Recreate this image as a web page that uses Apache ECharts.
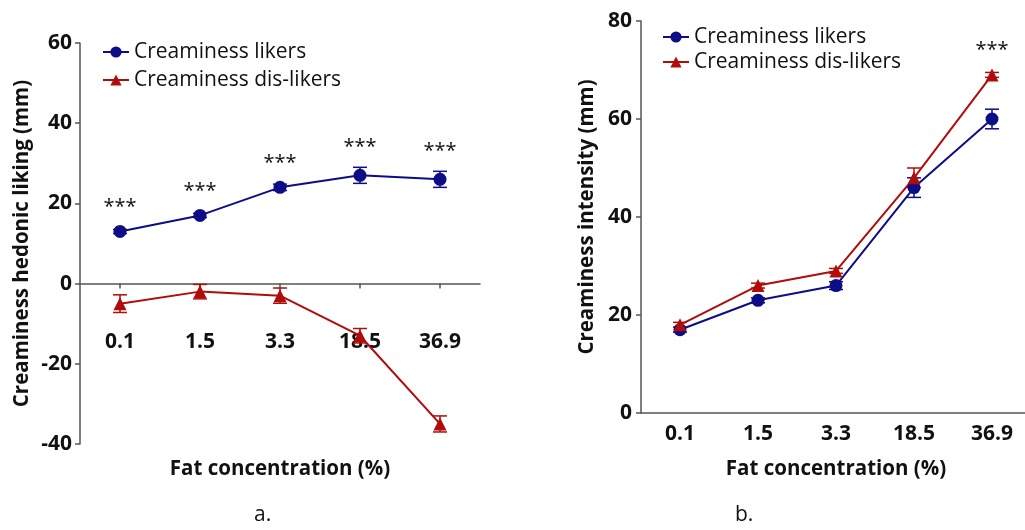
<!DOCTYPE html>
<html>
<head>
<meta charset="utf-8">
<script src="https://cdn.jsdelivr.net/npm/echarts@6/dist/echarts.min.js"></script>
<style>
html,body{margin:0;padding:0;background:#fff;}
#chart{width:1025px;height:530px;}
</style>
</head>
<body>
<div id="chart"></div>
<script>
const categories = ['0.1', '1.5', '3.3', '18.5', '36.9'];
const likingTicks = [-40, -20, 0, 20, 40, 60];
const intensityTicks = [0, 20, 40, 60, 80];

const likingLikers = [13, 17, 24, 27, 26];
const likingLikersErr = [0.5, 0.5, 0.8, 2, 2];
const likingDislikers = [-5, -2, -3, -13, -35];
const likingDislikersErr = [2.2, 1.8, 1.9, 1.8, 2];
const likingStarsAt = [19, 23, 30, 34, 33];

const intensityLikers = [17, 23, 26, 46, 60];
const intensityLikersErr = [0.5, 0.5, 0.8, 2, 2];
const intensityDislikers = [18, 26, 29, 48, 69];
const intensityDislikersErr = [0.5, 0.5, 0.5, 2, 0.5];
const intensityStarsAt = [null, null, null, null, 74];

const BLUE = '#0d0d85';
const RED = '#b00c0c';
const AXIS = '#555555';
const FONT = '"Open Sans", "Noto Sans", sans-serif';

function errData(vals, errs) {
  return vals.map((v, i) => [i, v - errs[i], v + errs[i]]);
}
function starData(arr) {
  const out = [];
  arr.forEach((v, i) => { if (v !== null) out.push([i, v]); });
  return out;
}
function errorRender(color) {
  return function (params, api) {
    const x = api.value(0);
    const lo = api.coord([x, api.value(1)]);
    const hi = api.coord([x, api.value(2)]);
    const w = 7;
    const style = { stroke: color, lineWidth: 1.5 };
    return {
      type: 'group',
      children: [
        { type: 'line', shape: { x1: lo[0], y1: lo[1], x2: hi[0], y2: hi[1] }, style: style },
        { type: 'line', shape: { x1: hi[0] - w, y1: hi[1], x2: hi[0] + w, y2: hi[1] }, style: style },
        { type: 'line', shape: { x1: lo[0] - w, y1: lo[1], x2: lo[0] + w, y2: lo[1] }, style: style }
      ]
    };
  };
}
function starRender(params, api) {
  const p = api.coord([api.value(0), api.value(1)]);
  return {
    type: 'text',
    x: p[0], y: p[1],
    style: { text: '***', fill: '#111', font: '20px ' + FONT, align: 'center', verticalAlign: 'middle' }
  };
}

const axisLineStyle = { lineStyle: { color: AXIS, width: 1.5 } };
const tickLabel = { color: '#111', fontSize: 21, fontWeight: 'bold', fontFamily: FONT };
const nameStyle = { color: '#111', fontSize: 20.5, fontWeight: 'bold', fontFamily: FONT };

const chart = echarts.init(document.getElementById('chart'));
chart.setOption({
  animation: false,
  backgroundColor: '#fff',
  grid: [
    { left: 80, top: 43, width: 400, height: 401, outerBoundsMode: 'none', containLabel: false },
    { left: 641, top: 21, width: 390, height: 392, outerBoundsMode: 'none', containLabel: false }
  ],
  legend: [
    {
      left: 97, top: 36, orient: 'vertical', itemWidth: 26, itemHeight: 14, itemGap: 6,
      data: ['Creaminess likers', 'Creaminess dis-likers'],
      textStyle: { fontSize: 21, fontFamily: FONT, color: '#111', lineHeight: 22 }
    },
    {
      left: 657, top: 21, orient: 'vertical', itemWidth: 26, itemHeight: 14, itemGap: 3,
      data: ['Creaminess likers', 'Creaminess dis-likers'],
      textStyle: { fontSize: 21, fontFamily: FONT, color: '#111', lineHeight: 22 }
    }
  ],
  xAxis: [
    {
      type: 'category', gridIndex: 0, data: categories,
      axisLine: Object.assign({ onZero: true }, axisLineStyle),
      axisTick: { show: true, alignWithLabel: true, length: 5, lineStyle: { color: AXIS, width: 1.5 } },
      axisLabel: Object.assign({ margin: -112 }, tickLabel),
      name: 'Fat concentration (%)', nameLocation: 'middle', nameGap: 15, nameTextStyle: nameStyle
    },
    {
      type: 'category', gridIndex: 1, data: categories,
      axisLine: axisLineStyle,
      axisTick: { alignWithLabel: true, length: 5, lineStyle: { color: AXIS, width: 1.5 } },
      axisLabel: Object.assign({ margin: 11 }, tickLabel),
      name: 'Fat concentration (%)', nameLocation: 'middle', nameGap: 46, nameTextStyle: nameStyle
    }
  ],
  yAxis: [
    {
      type: 'value', gridIndex: 0, min: likingTicks[0], max: likingTicks[likingTicks.length - 1], interval: 20,
      axisLine: Object.assign({ show: true }, axisLineStyle),
      axisTick: { show: true, length: 5, lineStyle: { color: AXIS, width: 1.5 } },
      axisLabel: Object.assign({ margin: 8 }, tickLabel),
      splitLine: { show: false },
      name: 'Creaminess hedonic liking (mm)', nameLocation: 'middle', nameGap: 47, nameRotate: 90, nameTextStyle: nameStyle
    },
    {
      type: 'value', gridIndex: 1, min: intensityTicks[0], max: intensityTicks[intensityTicks.length - 1], interval: 20,
      axisLine: Object.assign({ show: true }, axisLineStyle),
      axisTick: { show: true, length: 5, lineStyle: { color: AXIS, width: 1.5 } },
      axisLabel: Object.assign({ margin: 9 }, tickLabel),
      splitLine: { show: false },
      name: 'Creaminess intensity (mm)', nameLocation: 'middle', nameGap: 43, nameRotate: 90, nameTextStyle: nameStyle
    }
  ],
  graphic: [
    { type: 'text', left: 254, top: 505, style: { text: 'a.', font: '21px ' + FONT, fill: '#111' } },
    { type: 'text', left: 735, top: 505, style: { text: 'b.', font: '21px ' + FONT, fill: '#111' } }
  ],
  series: [
    { type: 'custom', xAxisIndex: 0, yAxisIndex: 0, renderItem: errorRender(BLUE), data: errData(likingLikers, likingLikersErr), z: 1, silent: true },
    { type: 'custom', xAxisIndex: 0, yAxisIndex: 0, renderItem: errorRender(RED), data: errData(likingDislikers, likingDislikersErr), z: 1, silent: true },
    {
      name: 'Creaminess likers', type: 'line', xAxisIndex: 0, yAxisIndex: 0, data: likingLikers,
      symbol: 'circle', symbolSize: 13, color: BLUE, lineStyle: { width: 2, color: BLUE }, itemStyle: { color: BLUE }, z: 3
    },
    {
      name: 'Creaminess dis-likers', type: 'line', xAxisIndex: 0, yAxisIndex: 0, data: likingDislikers,
      symbol: 'triangle', symbolSize: 13, color: RED, lineStyle: { width: 2, color: RED }, itemStyle: { color: RED }, z: 3
    },
    { type: 'custom', xAxisIndex: 0, yAxisIndex: 0, renderItem: starRender, data: starData(likingStarsAt), silent: true },

    { type: 'custom', xAxisIndex: 1, yAxisIndex: 1, renderItem: errorRender(BLUE), data: errData(intensityLikers, intensityLikersErr), z: 1, silent: true },
    { type: 'custom', xAxisIndex: 1, yAxisIndex: 1, renderItem: errorRender(RED), data: errData(intensityDislikers, intensityDislikersErr), z: 1, silent: true },
    {
      name: 'Creaminess likers', type: 'line', xAxisIndex: 1, yAxisIndex: 1, data: intensityLikers,
      symbol: 'circle', symbolSize: 13, color: BLUE, lineStyle: { width: 2, color: BLUE }, itemStyle: { color: BLUE }, z: 3
    },
    {
      name: 'Creaminess dis-likers', type: 'line', xAxisIndex: 1, yAxisIndex: 1, data: intensityDislikers,
      symbol: 'triangle', symbolSize: 13, color: RED, lineStyle: { width: 2, color: RED }, itemStyle: { color: RED }, z: 3
    },
    { type: 'custom', xAxisIndex: 1, yAxisIndex: 1, renderItem: starRender, data: starData(intensityStarsAt), silent: true }
  ]
});
</script>
</body>
</html>
